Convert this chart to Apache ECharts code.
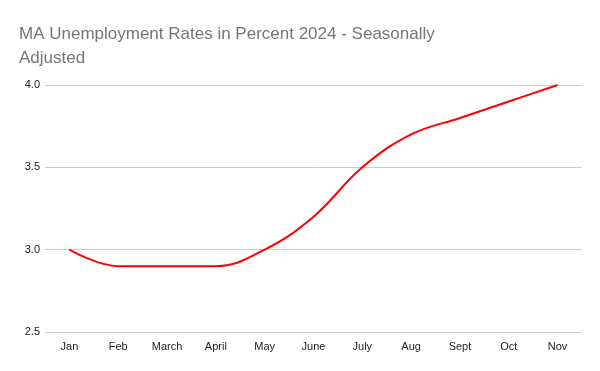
<!DOCTYPE html>
<html><head><meta charset="utf-8">
<script src="https://cdn.jsdelivr.net/npm/echarts@6/dist/echarts.min.js"></script>
<style>html,body{margin:0;padding:0;background:#fff}#c{width:600px;height:371px}</style>
</head><body><div id="c"></div>
<script>
const months = ["Jan","Feb","March","April","May","June","July","Aug","Sept","Oct","Nov"];
const rates = [3.0,2.9,2.9,2.9,3.0,3.2,3.5,3.7,3.8,3.9,4.0];
const chart = echarts.init(document.getElementById('c'), null, {renderer:'canvas'});
chart.setOption({
  animation:false,
  backgroundColor:'#fff',
  title:{text:'MA Unemployment Rates in Percent 2024 - Seasonally\nAdjusted',left:14,top:17,
    textStyle:{fontFamily:'Liberation Sans, Arial',fontSize:17,fontWeight:'normal',color:'#757575',lineHeight:24}},
  grid:{left:45,right:18,top:85,bottom:39,containLabel:false},
  xAxis:{type:'category',data:months,boundaryGap:true,
    axisLine:{show:false},axisTick:{show:false},
    axisLabel:{color:'#222',fontSize:11,fontFamily:'Liberation Sans, Arial',margin:9}},
  yAxis:{type:'value',min:2.5,max:4.0,interval:0.5,
    axisLabel:{color:'#222',fontSize:11,fontFamily:'Liberation Sans, Arial',margin:5,formatter:v=>v.toFixed(1)},
    splitLine:{lineStyle:{color:'#cccccc',width:1}},axisLine:{show:false},axisTick:{show:false}},
  series:[{type:'line',data:rates,smooth:0.4,symbol:'none',lineStyle:{color:'#ff0000',width:2}}]
});
</script></body></html>
